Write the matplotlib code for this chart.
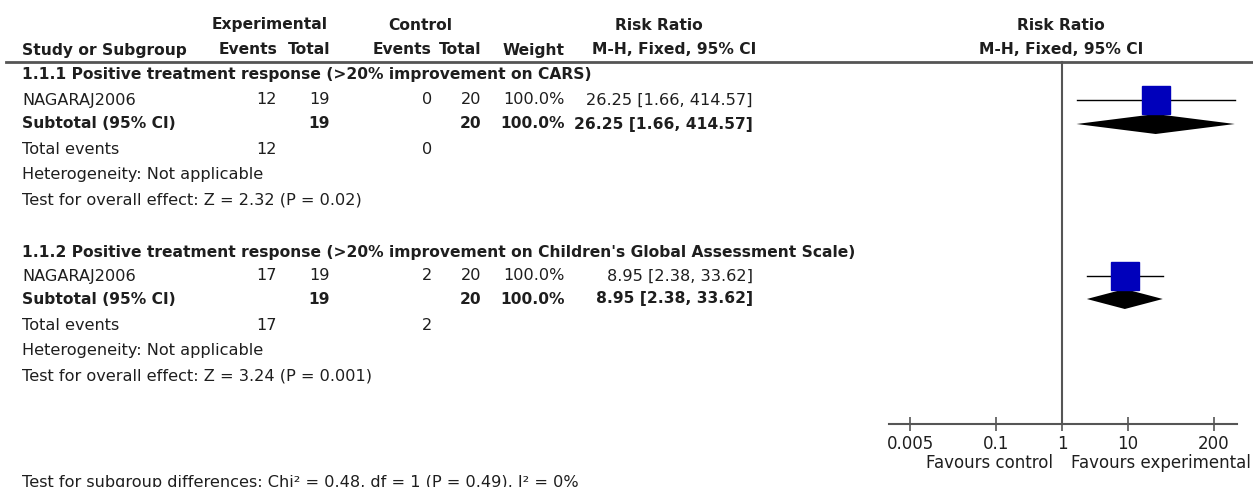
import matplotlib.pyplot as plt
from matplotlib.ticker import NullLocator

W, H = 1253, 487

# ---- data ----
group_titles = [
    "1.1.1 Positive treatment response (>20% improvement on CARS)",
    "1.1.2 Positive treatment response (>20% improvement on Children's Global Assessment Scale)",
]
studies = ["NAGARAJ2006", "NAGARAJ2006"]
exp_events = [12, 17]
exp_total = [19, 19]
ctrl_events = [0, 2]
ctrl_total = [20, 20]
weights = [100.0, 100.0]
rr = [26.25, 8.95]
ci_lo = [1.66, 2.38]
ci_hi = [414.57, 33.62]
heterogeneity = ["Not applicable", "Not applicable"]
overall = ["Z = 2.32 (P = 0.02)", "Z = 3.24 (P = 0.001)"]
subgroup_test = "Test for subgroup differences: Chi\u00b2 = 0.48, df = 1 (P = 0.49), I\u00b2 = 0%"
tick_vals = [0.005, 0.1, 1, 10, 200]
tick_labels = ["0.005", "0.1", "1", "10", "200"]

# ---- layout (pixels from top-left) ----
title_rows = [75, 253]
study_rows = [100, 276]
subtotal_rows = [124, 299]
events_rows = [150, 325]
het_rows = [175, 350]
test_rows = [200, 376]
axis_y = 424

X_LEFT = 22
X_EXP_EV = 277
X_EXP_TOT = 330
X_CTL_EV = 432
X_CTL_TOT = 481
X_WEIGHT = 565
X_RR = 753

TXT = "#1e1e1e"
LINE = "#555555"
BLUE = "#0000BB"
FS = 11.6
FSB = 11.2
FS_AX = 12

plt.rcParams["font.family"] = "DejaVu Sans"

fig = plt.figure(figsize=(W / 100, H / 100), dpi=100)
tab = fig.add_axes([0, 0, 1, 1])
tab.set_xlim(0, W)
tab.set_ylim(H, 0)
tab.axis("off")


def put(x, y, s, ha="left", bold=False):
    tab.text(x, y, s, ha=ha, va="center", color=TXT, fontsize=FSB if bold else FS,
             fontweight="bold" if bold else "normal")


# headers
put(270, 25, "Experimental", "center", True)
put(420, 25, "Control", "center", True)
put(659, 25, "Risk Ratio", "center", True)
put(1061, 25, "Risk Ratio", "center", True)
put(X_LEFT, 50, "Study or Subgroup", bold=True)
put(X_EXP_EV, 50, "Events", "right", True)
put(X_EXP_TOT, 50, "Total", "right", True)
put(X_CTL_EV, 50, "Events", "right", True)
put(X_CTL_TOT, 50, "Total", "right", True)
put(X_WEIGHT, 50, "Weight", "right", True)
put(674, 50, "M-H, Fixed, 95% CI", "center", True)
put(1061, 50, "M-H, Fixed, 95% CI", "center", True)
tab.plot([6, 1252], [62, 62], color=LINE, lw=2)

for i in range(len(studies)):
    ci_txt = f"{rr[i]:.2f} [{ci_lo[i]:.2f}, {ci_hi[i]:.2f}]"
    put(X_LEFT, title_rows[i], group_titles[i], bold=True)
    y = study_rows[i]
    put(X_LEFT, y, studies[i])
    put(X_EXP_EV, y, str(exp_events[i]), "right")
    put(X_EXP_TOT, y, str(exp_total[i]), "right")
    put(X_CTL_EV, y, str(ctrl_events[i]), "right")
    put(X_CTL_TOT, y, str(ctrl_total[i]), "right")
    put(X_WEIGHT, y, f"{weights[i]:.1f}%", "right")
    put(X_RR, y, ci_txt, "right")
    y = subtotal_rows[i]
    put(X_LEFT, y, "Subtotal (95% CI)", bold=True)
    put(X_EXP_TOT, y, str(exp_total[i]), "right", True)
    put(X_CTL_TOT, y, str(ctrl_total[i]), "right", True)
    put(X_WEIGHT, y, f"{weights[i]:.1f}%", "right", True)
    put(X_RR, y, ci_txt, "right", True)
    put(X_LEFT, events_rows[i], "Total events")
    put(X_EXP_EV, events_rows[i], str(exp_events[i]), "right")
    put(X_CTL_EV, events_rows[i], str(ctrl_events[i]), "right")
    put(X_LEFT, het_rows[i], "Heterogeneity: " + heterogeneity[i])
    put(X_LEFT, test_rows[i], "Test for overall effect: " + overall[i])

put(X_LEFT, 482, subgroup_test)

# ---- forest plot ----
X_ONE = 1062
PX_DEC = 66


def px_to_rr(px):
    return 10 ** ((px - X_ONE) / PX_DEC)


ax = fig.add_axes([860 / W, 0, (W - 860) / W, 1])
ax.set_xscale("log")
ax.set_xlim(px_to_rr(860), px_to_rr(W))
ax.set_ylim(H, 0)
ax.patch.set_alpha(0)
for s in ["top", "left", "right"]:
    ax.spines[s].set_visible(False)
ax.spines["bottom"].set_position(("data", axis_y))
ax.spines["bottom"].set_bounds(px_to_rr(889), px_to_rr(1237))
ax.spines["bottom"].set_color(LINE)
ax.spines["bottom"].set_linewidth(1.5)
ax.set_yticks([])
ax.set_xticks(tick_vals)
ax.set_xticklabels(tick_labels)
ax.xaxis.set_minor_locator(NullLocator())
ax.tick_params(axis="x", direction="inout", length=10, width=1.2, color=LINE,
               labelsize=FS_AX, labelcolor=TXT, pad=3)

ax.plot([1, 1], [62, axis_y], color=LINE, lw=1.5)
for i in range(len(studies)):
    y = study_rows[i]
    ax.plot([ci_lo[i], ci_hi[i]], [y, y], color="black", lw=1)
    ax.plot(rr[i], y, marker="s", ms=20, mfc=BLUE, mec=BLUE)
    yd = subtotal_rows[i]
    ax.fill([ci_lo[i], rr[i], ci_hi[i], rr[i]], [yd, yd - 10, yd, yd + 10],
            color="black", lw=0)

tab.text(1053, 463, "Favours control", ha="right", va="center", color=TXT, fontsize=FS_AX)
tab.text(1071, 463, "Favours experimental", ha="left", va="center", color=TXT, fontsize=FS_AX)

fig.savefig("out.png", dpi=100)
